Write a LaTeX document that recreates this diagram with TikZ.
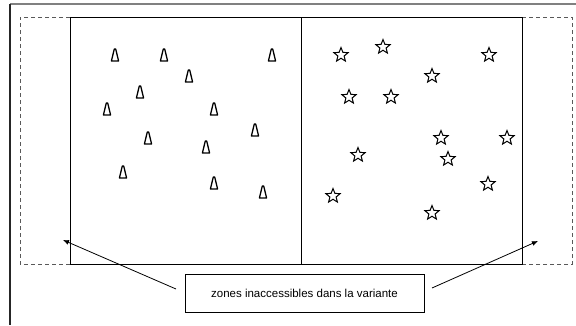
\documentclass[tikz,border=0pt]{standalone}
\usepackage{fontspec}
\setmainfont{Liberation Sans}
\usetikzlibrary{shapes.geometric,arrows.meta}
\begin{document}
\begin{tikzpicture}[x=1pt,y=-1pt,
  tri/.style={line width=1.3pt,line join=round},
  staricon/.style={star,star points=5,star point ratio=2.3,draw,line width=1pt,minimum size=15pt,inner sep=0pt},
  zone/.style={draw,dash pattern=on 4pt off 3pt,line width=1pt,black!65},
  field/.style={draw,line width=0.9pt},
  arr/.style={draw,line width=0.8pt,-{Latex[length=6pt,width=5pt]}},
  label/.style={draw,line width=0.9pt,minimum width=239pt,minimum height=38pt,inner sep=0pt,font=\fontsize{11.5}{13}\selectfont}
]
\useasboundingbox (0,0) rectangle (576,325);
% outer frame
\draw[gray,line width=1.8pt] (10,4) -- (576,4);
\draw[black!85,line width=1.3pt] (10,4) -- (10,325);
% dashed zones
\draw[zone] (70,17) -- (20,17) -- (20,264) -- (70,264);
\draw[zone] (522,17) -- (572,17) -- (572,264) -- (522,264);
% field
\draw[field] (70,17) rectangle (522,264);
\draw[field] (301,17) -- (301,264);
% triangles
\foreach \x/\y in {115/55,164/55,272/55,189/76,140/92,107/109,214/109,255/130,148/138,206/147,123/172,214/183,263/192}
  \draw[tri] (\x-3.6,\y+6) -- (\x-0.7,\y-6) -- (\x+0.7,\y-6) -- (\x+3.6,\y+6) -- cycle;
% stars
\foreach \x/\y [count=\i] in {341/55,383/47,489/55,432/76,349/97,391/97,441/138,507/138,358/155,448/159,488/184,333/196,432/213}
  \node[staricon] (s\i) at (\x,\y) {};
% label
\node[label] (lab) at (304.5,293) {zones inaccessibles dans la variante};
\coordinate (lz) at (63,240);
\coordinate (rz) at (538,241);
\coordinate (la) at (176,289);
\coordinate (ra) at (432,288);
\draw[arr] (la) -- (lz);
\draw[arr] (ra) -- (rz);
\end{tikzpicture}
\end{document}
